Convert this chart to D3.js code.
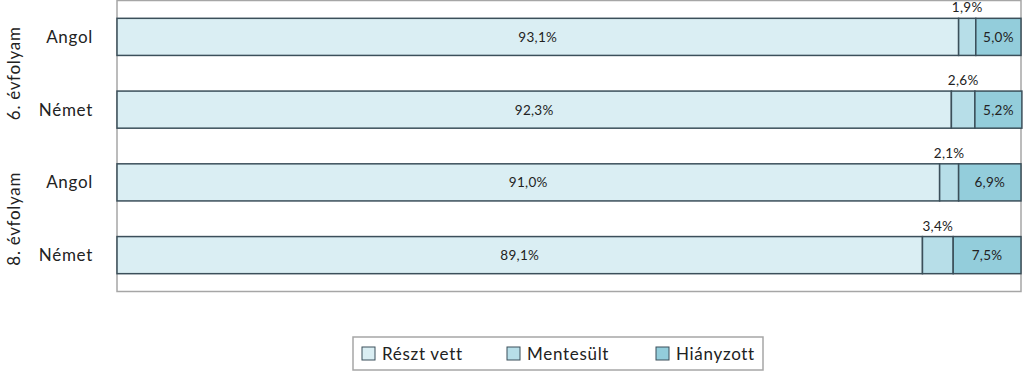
<!DOCTYPE html>
<html><head><meta charset="utf-8">
<script src="https://cdn.jsdelivr.net/npm/d3@7/dist/d3.min.js"></script>
<style>body{margin:0;background:#fff}svg{display:block}text{font-family:Lato,"Open Sans",sans-serif;fill:#222}</style>
</head><body><svg id="c" width="1023" height="372"></svg>
<script>
const groups = ["6. évfolyam","6. évfolyam","8. évfolyam","8. évfolyam"];
const subjects = ["Angol","Német","Angol","Német"];
const reszt = [93.1, 92.3, 91.0, 89.1];
const mentes = [1.9, 2.6, 2.1, 3.4];
const hiany = [5.0, 5.2, 6.9, 7.5];
const seriesNames = ["Részt vett","Mentesült","Hiányzott"];
const colors = ["#daeef3","#b7dee8","#93cddb"];

const svg = d3.select("#c");
const L = 117, R = 1021, T = 0.5, B = 291.5;
const ids = subjects.map((s,i)=>i);
const x = d3.scaleLinear().domain([0,100]).range([L,R]);
const y = d3.scaleBand().domain(ids).range([T,B]).paddingInner(0.49).paddingOuter(0.245);
const fmt = v => v.toFixed(1).replace(".",",")+"%";

svg.append("rect").attr("x",L).attr("y",T).attr("width",R-L).attr("height",B-T)
  .attr("fill","#fff").attr("stroke","#a6a6a6").attr("stroke-width",1.5);

const rows = ids.map(i=>({i, vals:[reszt[i],mentes[i],hiany[i]]}));
rows.forEach(r=>{
  let acc=0;
  r.vals.forEach((v,k)=>{
    const x0=x(acc), x1=x(acc+v);
    svg.append("rect").attr("x",x0).attr("y",y(r.i)).attr("width",x1-x0).attr("height",y.bandwidth())
      .attr("fill",colors[k]).attr("stroke","#3b4f5a").attr("stroke-width",1.5);
    const cx=(x0+x1)/2;
    if(k===1){
      svg.append("text").attr("x",cx).attr("y",y(r.i)-6).attr("text-anchor","middle")
        .attr("font-size",13.5).attr("letter-spacing",0.3).text(fmt(v));
    } else {
      svg.append("text").attr("x",cx).attr("y",y(r.i)+y.bandwidth()/2+5).attr("text-anchor","middle")
        .attr("font-size",13.5).attr("letter-spacing",0.3).text(fmt(v));
    }
    acc+=v;
  });
  svg.append("text").attr("x",93).attr("y",y(r.i)+y.bandwidth()/2+6).attr("text-anchor","end")
    .attr("font-size",17).attr("letter-spacing",0.7).text(subjects[r.i]);
});

const gNames = [...new Set(groups)];
gNames.forEach(g=>{
  const idx = ids.filter(i=>groups[i]===g);
  const cy = (y(idx[0]) + y(idx[idx.length-1]) + y.bandwidth())/2;
  svg.append("text").attr("transform",`translate(20,${cy}) rotate(-90)`).attr("text-anchor","middle")
    .attr("font-size",17).attr("letter-spacing",0.7).text(g);
});

// legend
svg.append("rect").attr("x",353).attr("y",337).attr("width",410).attr("height",33)
  .attr("fill","#fff").attr("stroke","#a6a6a6").attr("stroke-width",1.5);
const legX = [362, 507, 656];
seriesNames.forEach((n,k)=>{
  svg.append("rect").attr("x",legX[k]).attr("y",347).attr("width",13).attr("height",13)
    .attr("fill",colors[k]).attr("stroke","#3b4f5a").attr("stroke-width",1);
  svg.append("text").attr("x",legX[k]+20).attr("y",360).attr("font-size",17).attr("letter-spacing",0.7).text(n);
});
</script></body></html>
